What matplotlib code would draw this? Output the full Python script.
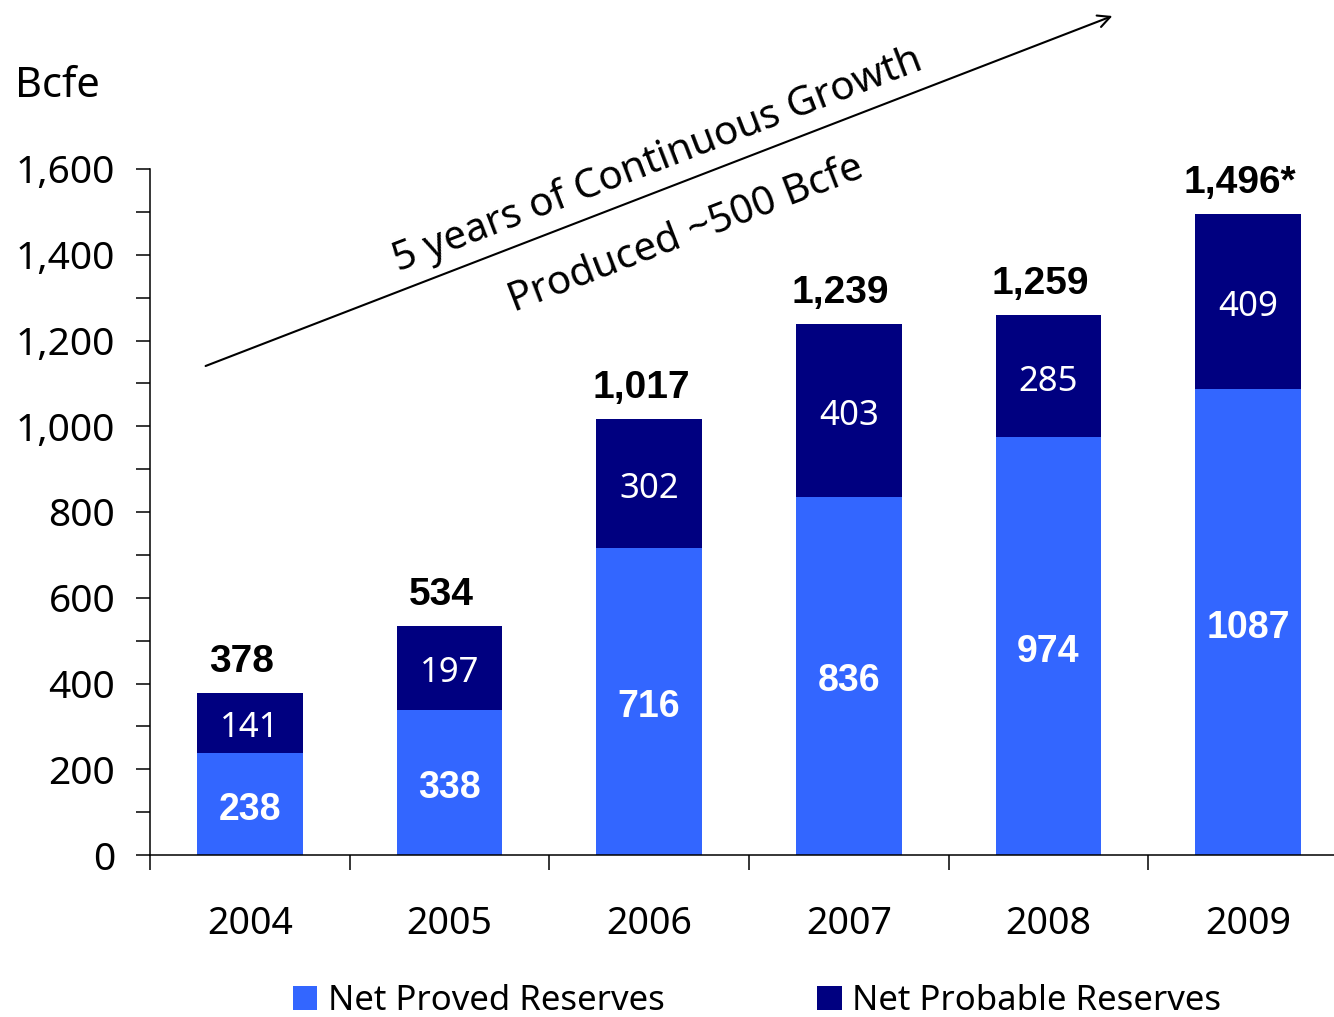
import matplotlib
matplotlib.use("Agg")
import matplotlib.pyplot as plt
from matplotlib.ticker import FixedLocator

years = ['2004', '2005', '2006', '2007', '2008', '2009']
proved = [238, 338, 716, 836, 974, 1087]
probable = [141, 197, 302, 403, 285, 409]
totals = [378, 534, 1017, 1239, 1259, 1496]
total_labels = ['378', '534', '1,017', '1,239', '1,259', '1,496*']
yticks = list(range(0, 1601, 200))

c_proved = '#3366FF'
c_probable = '#000080'
reg = 'Noto Sans'
bold = 'Liberation Sans'

fig = plt.figure(figsize=(13.34, 10.17), dpi=100)
ax = fig.add_axes([150 / 1334, 162 / 1017, 1198 / 1334, 686 / 1017])

x = range(len(years))
ax.bar(x, proved, width=0.53, color=c_proved, label='Net Proved Reserves')
ax.bar(x, probable, width=0.53, bottom=proved, color=c_probable, label='Net Probable Reserves')

for i in x:
    ax.annotate(str(proved[i]), (i, proved[i] / 2), xytext=(0, -4), textcoords='offset points',
                ha='center', va='center', color='white', fontsize=27,
                fontweight='bold', family=bold)
    ax.annotate(str(probable[i]), (i, proved[i] + probable[i] / 2), xytext=(0, -4),
                textcoords='offset points', ha='center', va='center', color='white',
                fontsize=25, family=reg)
    ax.annotate(total_labels[i], (i, totals[i]), xytext=(-6, 15), textcoords='offset points',
                ha='center', va='baseline', fontsize=28, fontweight='bold', family=bold)

ax.set_xlim(-0.5, 5.5)
ax.set_ylim(0, 1600)
ax.set_yticks(yticks)
ax.set_yticklabels([f'{v:,}' for v in yticks], fontsize=28, family=reg)
ax.yaxis.set_minor_locator(FixedLocator(range(100, 1600, 200)))
ax.set_xticks(list(x))
ax.set_xticklabels(years, fontsize=27, family=reg)
ax.xaxis.set_minor_locator(FixedLocator([i - 0.5 for i in range(7)]))

ax.tick_params(axis='y', which='both', direction='out', length=10, width=1.1, pad=15)
ax.tick_params(axis='x', which='major', length=0, pad=36)
ax.tick_params(axis='x', which='minor', direction='out', length=11, width=1.1)
for s in ['top', 'right']:
    ax.spines[s].set_visible(False)
for s in ['left', 'bottom']:
    ax.spines[s].set_linewidth(1.1)

fig.text(15 / 1334, 1 - 86 / 1017, 'Bcfe', ha='left', va='center', fontsize=30, family=reg)

# growth arrow with its two captions
ax.annotate('', xy=(1115, 1017 - 15), xycoords='figure pixels',
            xytext=(203, 1017 - 367), textcoords='figure pixels',
            arrowprops=dict(arrowstyle='->', lw=1.5, color='black',
                            mutation_scale=22))
fig.text(658 / 1334, 1 - 160 / 1017, '5 years of Continuous Growth', rotation=21.1,
         rotation_mode='anchor', ha='center', va='center', fontsize=29, family=reg)
fig.text(686 / 1334, 1 - 235 / 1017, 'Produced ~500 Bcfe', rotation=21.1,
         rotation_mode='anchor', ha='center', va='center', fontsize=29, family=reg)

fig.legend(loc='center', bbox_to_anchor=(757 / 1334, 1 - 1001 / 1017), ncol=2,
           frameon=False, prop={'family': reg, 'size': 25},
           handlelength=0.7, handleheight=0.7, handletextpad=0.3, columnspacing=4.4)

fig.savefig('out.png', dpi=100)
